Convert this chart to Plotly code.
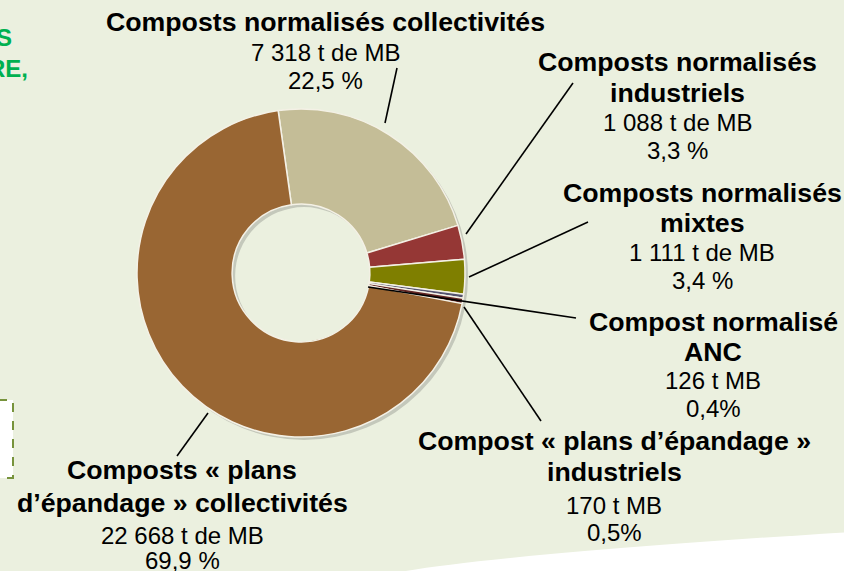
import plotly.graph_objects as go

# ---------------- data ----------------
categories = [
    "Composts normalisés collectivités",
    "Composts normalisés industriels",
    "Composts normalisés mixtes",
    "Compost normalisé ANC",
    "Compost « plans d’épandage » industriels",
    "Composts « plans d’épandage » collectivités",
]
tonnages = [7318, 1088, 1111, 126, 170, 22668]
amount_labels = ["7 318 t de MB", "1 088 t de MB", "1 111 t de MB", "126 t MB", "170 t MB", "22 668 t de MB"]
percent_labels = ["22,5 %", "3,3 %", "3,4 %", "0,4%", "0,5%", "69,9 %"]
title_lines = [
    ["Composts normalisés collectivités"],
    ["Composts normalisés", "industriels"],
    ["Composts normalisés", "mixtes"],
    ["Compost normalisé", "ANC"],
    ["Compost « plans d’épandage »", "industriels"],
    ["Composts « plans", "d’épandage » collectivités"],
]
slice_colors = ["#C4BD97", "#953735", "#7F7F00", "#545470", "#632523", "#996633"]

# ---------------- layout helpers (pixel coordinates) ----------------
W, H = 844, 571
cx, cy, R = 301, 273, 164
label_x = [325, 677, 702, 713, 614, 182]
label_y = [
    [22, 52, 80],
    [62, 93, 122, 150],
    [193, 223, 252, 280],
    [322, 352, 380, 408],
    [441, 472, 505, 532],
    [470, 503, 535, 560],
]
leaders = [
    (385, 123, 397, 68),
    (466, 234, 573, 83),
    (469, 277, 588, 222),
    (368, 287, 576, 318),
    (464, 307, 541, 421),
    (208, 413, 177, 456),
]

BOLD = dict(family="Liberation Sans, Arial, sans-serif", size=26.7, color="#000000")
REG = dict(family="Liberation Sans, Arial, sans-serif", size=24, color="#000000")
BG = "#EBF0DF"


def dom(x0, x1, y0, y1):
    return dict(x=[x0 / W, x1 / W], y=[(H - y1) / H, (H - y0) / H])


fig = go.Figure()

# invisible cartesian trace so shapes/annotations can use pixel axes
fig.add_trace(go.Scatter(x=[0, W], y=[0, H], mode="markers",
                         marker=dict(opacity=0), hoverinfo="skip", showlegend=False))

# soft shadow of the donut
sh = 3
fig.add_trace(go.Pie(
    values=[1], hole=0.42, sort=False, textinfo="none", hoverinfo="skip",
    marker=dict(colors=["rgba(60,60,60,0.22)"], line=dict(width=0)),
    domain=dom(cx - R + sh, cx + R + sh, cy - R + sh, cy + R + sh),
    showlegend=False,
))

fig.add_trace(go.Pie(
    labels=categories, values=tonnages, hole=0.42, sort=False,
    direction="clockwise", rotation=-8,
    textinfo="none", hoverinfo="label+value",
    marker=dict(colors=slice_colors, line=dict(color="#F4F1E6", width=1.5)),
    domain=dom(cx - R, cx + R, cy - R, cy + R),
    showlegend=False,
))

shapes = []
# white sweep at the bottom right
shapes.append(dict(type="path", xref="x", yref="y", layer="below",
                   path="M 385 575 Q 470 556 850 532 L 850 575 Z",
                   fillcolor="#FFFFFF", line=dict(width=0)))
# dashed box partly off the left edge
shapes.append(dict(type="rect", xref="x", yref="y", layer="below",
                   x0=-20, x1=13, y0=400, y1=478, fillcolor="#FFFFFF",
                   line=dict(color="#77933C", width=2, dash="dash")))
for (x0, y0, x1, y1) in leaders:
    shapes.append(dict(type="line", xref="x", yref="y", layer="above",
                       x0=x0, y0=y0, x1=x1, y1=y1,
                       line=dict(color="#000000", width=1.6)))

annotations = []
for i in range(len(categories)):
    lines = [(t, BOLD) for t in title_lines[i]] + [(amount_labels[i], REG), (percent_labels[i], REG)]
    for (txt, f), yy in zip(lines, label_y[i]):
        t = f"<b>{txt}</b>" if f is BOLD else txt
        annotations.append(dict(x=label_x[i], y=yy, xref="x", yref="y", text=t,
                                showarrow=False, xanchor="center", yanchor="middle",
                                font=f))

# clipped green heading fragments on the left edge
GREEN = dict(family="Liberation Sans, Arial, sans-serif", size=24, color="#00B050")
annotations.append(dict(x=14, y=37, xref="x", yref="y", text="<b>S</b>", showarrow=False,
                        xanchor="right", yanchor="middle", font=GREEN))
annotations.append(dict(x=30, y=68, xref="x", yref="y", text="<b>RE,</b>", showarrow=False,
                        xanchor="right", yanchor="middle", font=GREEN))

fig.update_layout(
    width=W, height=H,
    margin=dict(l=0, r=0, t=0, b=0),
    paper_bgcolor=BG, plot_bgcolor="rgba(0,0,0,0)",
    xaxis=dict(range=[0, W], visible=False, fixedrange=True),
    yaxis=dict(range=[H, 0], visible=False, fixedrange=True),
    shapes=shapes, annotations=annotations, showlegend=False,
)

fig.write_html(
    "out.html",
    config={"displayModeBar": False},
    post_script="document.body.style.margin='0';document.body.style.background='" + BG + "';",
)
